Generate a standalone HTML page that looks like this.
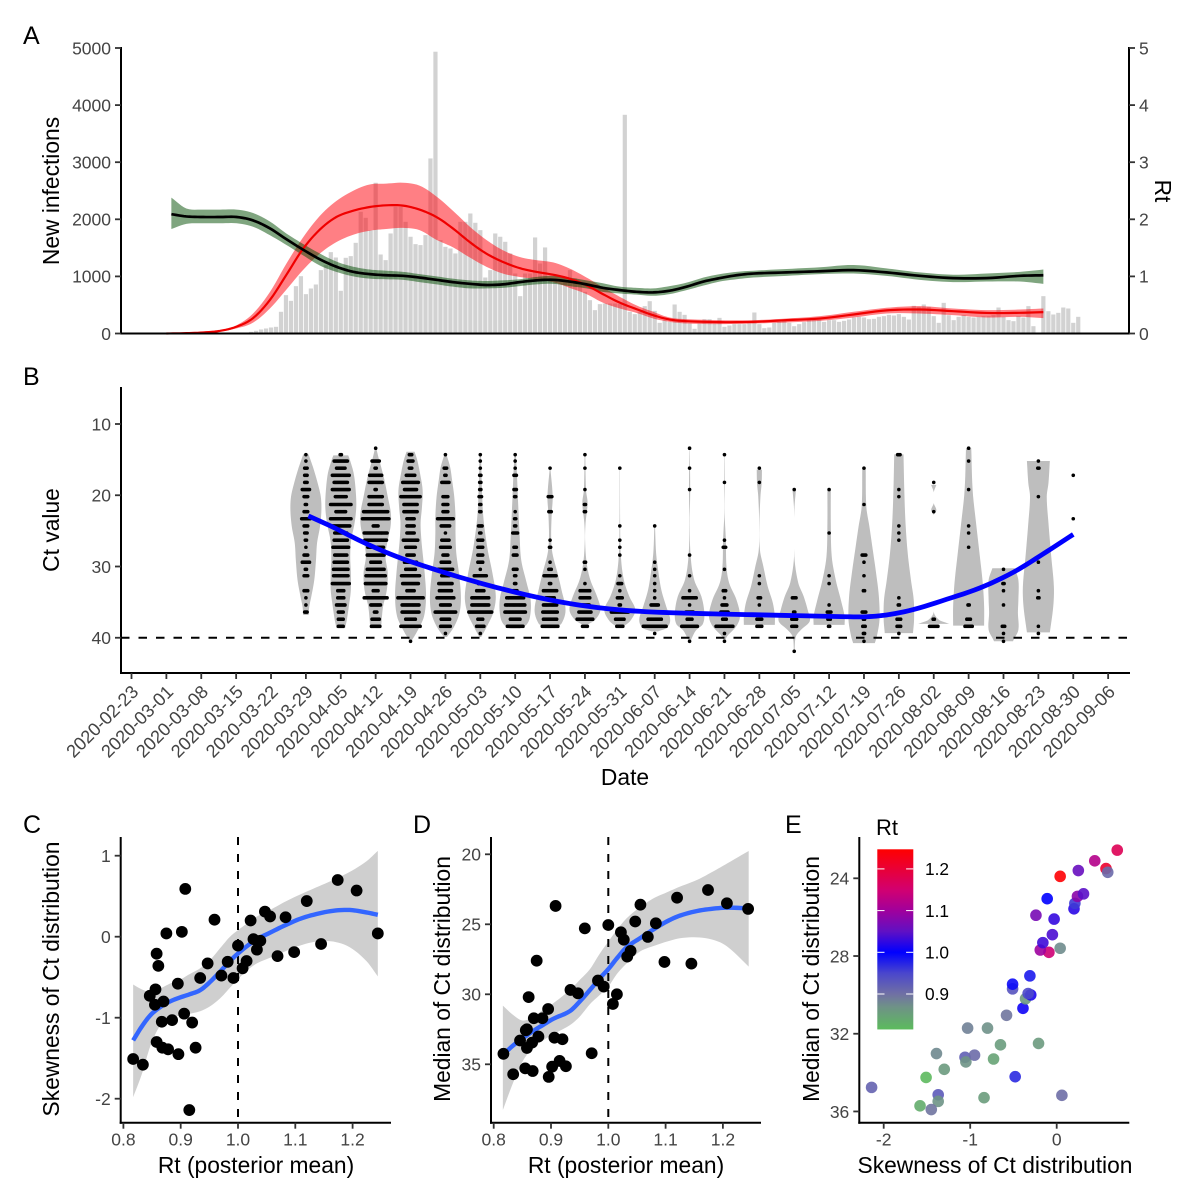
<!DOCTYPE html>
<html lang="en">
<head>
<meta charset="utf-8">
<title>Ct values and Rt panels</title>
<style>
html,body{margin:0;padding:0;background:#fff;}
svg{display:block;font-family:"Liberation Sans",Arial,sans-serif;}
</style>
</head>
<body>
<svg id="fig" xmlns="http://www.w3.org/2000/svg" width="1200" height="1200" viewBox="0 0 1200 1200">
<rect x="0" y="0" width="1200" height="1200" fill="#fff"/>
<text x="23" y="44" font-size="25">A</text>
<text x="23" y="385" font-size="25">B</text>
<text x="23" y="833" font-size="25">C</text>
<text x="413" y="833" font-size="25">D</text>
<text x="785" y="833" font-size="25">E</text>
<text transform="translate(59,191) rotate(-90)" text-anchor="middle" font-size="22.8">New infections</text>
<text transform="translate(1155,191) rotate(90)" text-anchor="middle" font-size="22.8">Rt</text>
<text transform="translate(59,530) rotate(-90)" text-anchor="middle" font-size="22.8">Ct value</text>
<text x="625" y="785" text-anchor="middle" font-size="22.8">Date</text>
<text transform="translate(59,979) rotate(-90)" text-anchor="middle" font-size="22.8">Skewness of Ct distribution</text>
<text x="256" y="1173" text-anchor="middle" font-size="22.8">Rt (posterior mean)</text>
<text transform="translate(450,979) rotate(-90)" text-anchor="middle" font-size="22.8">Median of Ct distribution</text>
<text x="626" y="1173" text-anchor="middle" font-size="22.8">Rt (posterior mean)</text>
<text transform="translate(819,979) rotate(-90)" text-anchor="middle" font-size="22.8">Median of Ct distribution</text>
<text x="995" y="1173" text-anchor="middle" font-size="22.8">Skewness of Ct distribution</text>
<text x="876" y="835" font-size="22">Rt</text>
</svg>
<script>
// ---------- Panel A data ----------
const dateLabels = ["2020-02-23","2020-03-01","2020-03-08","2020-03-15","2020-03-22","2020-03-29","2020-04-05","2020-04-12","2020-04-19","2020-04-26","2020-05-03","2020-05-10","2020-05-17","2020-05-24","2020-05-31","2020-06-07","2020-06-14","2020-06-21","2020-06-28","2020-07-05","2020-07-12","2020-07-19","2020-07-26","2020-08-02","2020-08-09","2020-08-16","2020-08-23","2020-08-30","2020-09-06"];
const newInfectionTicks = [0,1000,2000,3000,4000,5000];
const rtTicks = [0,1,2,3,4,5];
const firstCaseDay = 24;
const dailyCases = [29,47,70,88,105,117,380,672,572,829,1004,689,788,858,1110,1197,1425,1331,748,1326,1355,1588,2132,2026,1810,2640,1384,1285,1752,2219,2219,1956,1694,1565,1548,1723,3066,4935,1635,1518,1489,1402,1956,1956,2102,1939,1810,981,1110,1752,1694,1606,1402,1051,654,1051,1051,1682,1226,1507,934,905,876,905,1110,964,847,730,584,409,514,526,526,526,520,3830,380,339,380,479,566,397,187,234,204,508,380,327,175,82,175,251,251,175,274,117,140,164,164,164,175,368,164,93,105,187,204,234,187,128,164,199,234,234,234,204,234,234,204,222,245,280,292,280,251,257,292,304,327,315,339,292,245,485,467,508,467,304,187,537,321,234,292,321,292,280,292,304,304,321,455,292,234,216,304,280,479,128,12,654,391,333,362,455,438,187,292];

const rtDays = [8,11,14.4,17.8,21.1,24.4,27.8,31.1,34.4,37.8,41.1,44.5,47.8,51.1,54.5,57.8,61.2,64.5,67.9,71.2,74.5,77.9,81.2,84.6,87.9,91.3,94.6,98,101.4,104.7,108,111.4,114.8,118.1,121.4,124.8,131.5,138.2,144.9,151.5,158.2,164.9,171.6,178.3,183];
const rtMean = [2.09,2.05,2.04,2.04,2.04,1.98,1.84,1.65,1.47,1.30,1.17,1.08,1.04,1.02,1.01,0.98,0.94,0.90,0.87,0.85,0.86,0.90,0.93,0.94,0.91,0.86,0.80,0.76,0.73,0.72,0.75,0.82,0.91,0.97,1.02,1.05,1.07,1.09,1.11,1.07,1.01,0.97,0.97,1.01,1.02];
const rtHigh = [2.38,2.19,2.17,2.17,2.17,2.11,1.96,1.75,1.57,1.40,1.26,1.17,1.12,1.10,1.08,1.04,1.00,0.96,0.93,0.92,0.93,0.95,0.99,1.01,0.98,0.93,0.88,0.82,0.80,0.79,0.83,0.89,0.98,1.04,1.08,1.10,1.13,1.16,1.20,1.14,1.07,1.03,1.05,1.08,1.12];
const rtLow = [1.83,1.92,1.93,1.93,1.93,1.87,1.72,1.55,1.37,1.19,1.08,1.00,0.96,0.95,0.94,0.90,0.86,0.82,0.79,0.79,0.80,0.83,0.86,0.87,0.83,0.79,0.73,0.70,0.68,0.66,0.69,0.76,0.84,0.91,0.95,0.98,1.01,1.04,1.05,1.01,0.94,0.90,0.91,0.91,0.87];

const infectionDays = [7,11,14.4,17.8,21.1,24.4,27.8,31.1,34.4,37.8,41.1,44.5,47.8,51.1,54.5,57.8,61.2,64.5,67.9,71.2,74.5,77.9,81.2,84.6,87.9,91.3,94.6,98,101.4,104.7,108,111.4,118.1,124.8,131.5,138.2,144.9,151.5,158.2,164.9,171.6,178.3,183];
const infectionMean = [0,6,18,47,120,270,590,1030,1480,1820,2040,2150,2215,2245,2240,2170,2040,1840,1600,1400,1255,1145,1080,1030,960,845,690,540,425,320,245,216,199,204,234,263,333,405,420,391,360,362,374];
const infectionHigh = [0,8,22,58,145,350,730,1226,1680,2060,2320,2500,2610,2625,2640,2590,2400,2150,1870,1640,1460,1340,1285,1245,1139,981,810,642,490,380,280,251,234,234,263,304,380,450,479,438,409,420,438];
const infectionLow = [0,4,14,36,90,190,440,770,1110,1400,1600,1730,1800,1830,1850,1810,1640,1510,1330,1170,1050,990,950,900,800,690,540,438,360,263,204,175,164,175,193,222,280,350,350,321,280,292,269];

// ---------- Panel B data ----------
const ctTicks = [10,20,30,40];
const ctThreshold = 40;
const ctLevels = [13.4,14.3,15.2,16.2,17.2,18.2,19.2,20.2,21.3,22.3,23.3,24.3,25.3,26.3,27.3,28.4,29.4,30.4,31.3,32.4,33.4,34.4,35.4,36.4,37.4,38.4,39.4,40.5,41.9];
const firstViolinWeek = 5;
const violinCt = [
[14.26,15.05,16.2,18.3,20.2,22.1,24.4,26.7,29.1,31.9,34.2,35.6,36.8],
[14.4,15.05,16.9,19.3,21.6,23.9,26.3,28.6,30.9,33.3,35.6,37.5,38.65],
[13.4,14.6,16,17.9,20.2,22.5,24.4,26.7,28.6,30.9,33.3,35.6,37.5,38.65],
[13.9,15.05,16.9,19.3,21.6,23.9,26.3,28.1,30.9,34.2,37,38.9,40.5],
[14.1,16,17.9,20.2,23,25.3,28.1,30.9,34.2,36.5,38.4,39.9],
[14.1,21.6,24.4,27.7,30.9,34.2,36.5,38.4,39.9],
[14.1,16.9,21.6,25.3,29.1,32.3,34.7,37,38.2,38.7],
[16.2,20.2,22.5,25.8,28.1,30.9,33.3,36.1,38,38.65],
[14.26,19.3,21.1,23.9,26.3,29.5,31.9,34.2,36.1,37.5,38.1],
[16.2,23.9,28.6,31.9,34.2,36.1,37.7,38.5],
[24.3,28.1,30.5,33.3,35.6,37.5,38.65,39.1],
[13.4,19.3,24,28.6,31.9,34.2,36.5,38.1,39,40.5],
[14.26,18.3,22.5,26.3,30,32.3,34.7,37,38.4,39.8,40.5],
[16.4,18.3,20.2,23.9,27.7,30,32.8,35.1,37,38.2],
[19.2,22.1,28.6,32.3,34.2,36.1,37.7,38.9,39.8,41.9],
[19.2,23.9,28.6,31.9,34.7,37,38.2],
[16.2,21.6,24.4,27.7,30.9,34.2,37.5,39.8,40.75],
[14.26,19.3,23.9,28.1,31.9,34.7,37.5,39.35],
[18.55,19.6,21.1,22.1,22.8,36.3,37.5,38.05],
[13.4,19.3,23.9,28.1,32.3,35.6,38.3],
[30.25,31.9,34.7,36.5,38.9,40.3,40.5],
[15.2,18.3,20.2,23.9,28.6,32.8,35.6,39.25]
];
const violinDensity = [
[.17,.3,.48,.76,.96,1,.91,.72,.65,.54,.35,.22,.17],
[.48,.59,.83,.96,1,.89,.67,.61,.65,.65,.52,.39,.28],
[.04,.17,.35,.57,.78,.98,.96,.74,.63,.78,.72,.48,.39,.35],
[.26,.43,.61,.78,.74,.65,.7,.78,.91,1,.87,.48,.05],
[.04,.3,.43,.57,.65,.65,.7,.87,1,.91,.57,.1],
[.04,.15,.26,.48,.78,1,.83,.43,.06],
[.04,.11,.2,.28,.39,.74,1,.96,.72,.3],
[.02,.17,.11,.07,.15,.48,.74,1,.74,.33],
[.02,.07,.17,.04,.01,.11,.35,.78,1,.65,.22],
[.01,.02,.07,.26,.61,1,.65,.17],
[.02,.09,.22,.43,.74,1,.76,.22],
[.01,.04,.01,.07,.3,.76,.95,.85,.4,.05],
[.01,.02,.01,.09,.13,.3,.78,1,.76,.17,.04],
[.17,.15,.07,.01,.04,.26,.54,.87,1,1],
[.11,.01,.01,.26,.61,.87,1,.43,.11,.02],
[.11,.11,.17,.43,.76,1,1],
[.11,.15,.35,.57,.78,.96,1,.83,.7],
[.3,.35,.43,.57,.78,.96,.98,.91],
[.17,0,0,.17,0,0,.35,1],
[.17,.26,.48,.7,.91,1,1],
[.72,.96,.96,.93,.96,.65,.61],
[.74,.65,.54,.65,.83,1,.96,.74]
];
const weeklyDotCounts = [
{1:1,2:1,3:3,4:3,5:3,6:7,7:4,8:2,9:4,10:8,11:4,12:3,13:2,14:1,15:4,16:7,17:2,18:4,20:4,21:1,22:1,23:3},
{1:2,2:12,3:8,4:15,5:12,6:15,7:10,8:18,9:9,10:18,11:16,12:11,13:12,14:14,15:11,16:12,17:13,18:13,19:15,20:6,21:6,22:8,23:5,24:5,25:5},
{0:1,2:7,3:2,4:11,5:12,6:2,7:12,8:12,9:21,10:23,11:5,12:20,13:19,14:14,15:15,16:9,17:15,18:17,19:18,20:5,21:20,22:9,23:3,24:7,25:8},
{1:3,2:5,3:3,4:8,5:14,6:11,7:17,8:12,9:12,10:7,11:7,12:7,13:13,14:9,15:7,16:11,17:9,18:16,19:14,20:7,21:22,22:15,23:15,24:9,25:17,27:1},
{1:1,3:3,4:2,5:7,7:5,8:5,9:5,10:14,11:8,12:1,13:7,14:9,15:5,16:8,17:13,18:7,19:12,20:11,21:15,22:9,23:18,24:8,25:9,26:1},
{1:1,2:1,3:1,4:2,5:2,6:2,7:3,8:2,9:2,11:4,12:2,13:5,14:5,15:5,16:5,17:1,18:11,19:4,20:7,21:15,22:15,23:20,24:5,25:7,26:1},
{1:1,2:1,3:1,4:3,6:3,7:2,9:1,10:2,11:2,12:5,14:3,15:4,17:4,18:2,19:2,20:4,21:15,22:17,23:18,24:9,25:14},
{3:1,7:4,9:3,13:1,14:2,16:1,17:3,18:11,19:2,20:12,21:8,22:12,23:13,24:12,25:14},
{1:1,3:1,6:1,8:2,9:2,16:2,17:1,19:1,20:9,21:9,22:8,23:11,24:14,25:5},
{3:1,11:1,13:1,14:1,15:1,18:1,19:4,20:1,21:5,22:2,23:15,24:8,25:6},
{11:1,16:1,17:1,18:1,19:1,20:1,21:1,22:7,23:5,24:12,25:20,26:1},
{0:1,3:1,6:1,15:1,18:1,20:1,21:12,22:1,23:7,24:5,25:14,27:1},
{1:1,5:1,13:1,14:3,17:1,20:3,21:1,22:5,23:7,24:4,25:15,26:1,27:1},
{3:1,5:1,18:1,19:1,21:3,22:1,24:5,25:5},
{6:1,21:4,23:2,24:5,25:5,28:1},
{6:1,12:1,18:1,19:1,22:1,23:4,24:3,25:2},
{3:1,8:1,15:4,16:1,18:1,20:2,23:4,24:2,25:3,26:2,27:1},
{1:3,6:1,7:1,11:1,12:1,13:1,21:1,22:2,24:4,25:4,26:1},
{5:1,9:1,24:2,25:8},
{0:1,2:1,6:1,11:1,12:1,14:1,22:2,24:4,25:7},
{17:1,19:2,20:1,22:1,25:3,26:1,27:1},
{2:1,3:2,7:1,16:1,20:1,21:2,25:1,26:1},
{4:1,10:1}
];
const ctTrendDays = [35.5,40.5,46.5,53.2,59.9,66.6,73.3,80,86.7,93.4,100,106.7,116.8,123.5,130.1,136.8,143.5,147.5,151.5,156.9,163.6,170.3,177,183.7,189];
const ctTrendValues = [22.9,24.5,26.6,28.6,30.2,31.65,32.95,34.1,35.05,35.75,36.2,36.45,36.65,36.75,36.85,36.95,37.05,37.05,36.8,36.05,34.6,33,30.8,27.9,25.5];

// ---------- Panels C, D, E data ----------
const rtPosterior = [.915,.817,.834,.926,.868,.896,.855,.971,.902,.858,.878,.920,.867,.906,.846,.856,.858,.885,.870,.895,1.008,.861,1.015,.947,.934,.992,.982,.875,1.145,1.098,1.033,1.039,1.069,1.027,1.022,.959,1.083,1.047,1.0,1.244,1.056,1.12,1.207,.908,1.174];
const ctSkewness = [-2.14,-1.51,-1.58,-1.37,-1.37,-1.45,-.84,-.48,.06,-1.30,-1.39,-1.06,-1.05,-.95,-.73,-.65,-.21,-1.03,-.80,-.58,-.39,-.36,-.30,-.33,-.51,-.51,-.31,.04,-.09,-.19,-.16,-.05,-.24,-.03,.2,.21,.24,.31,-.11,.04,.25,.44,.57,.59,.70];
const ctMedian = [34.76,34.25,35.71,35.14,35.48,35.9,35.29,34.21,35.17,33.83,33.02,33.21,33.45,33.1,33.3,32.57,32.5,31.71,31.71,31.05,30.69,30.2,30.0,29.93,29.69,29.45,29.02,27.6,27.81,27.69,27.31,26.9,25.9,26.1,25.57,25.29,24.93,24.8,25.05,23.9,23.6,23.1,23.5,23.69,22.55];

const skewFitRt = [.817,.832,.847,.864,.881,.899,.916,.934,.951,.969,.986,.998,1.015,1.033,1.056,1.079,1.108,1.137,1.166,1.195,1.224,1.244];
const skewFitMean = [-1.28,-1.11,-.97,-.87,-.80,-.75,-.71,-.66,-.56,-.43,-.30,-.22,-.12,-.03,.05,.13,.22,.28,.32,.33,.30,.27];
const skewFitHigh = [-.59,-.65,-.68,-.64,-.58,-.53,-.46,-.39,-.29,-.14,.00,.07,.16,.25,.33,.42,.52,.61,.70,.80,.93,1.06];
const skewFitLow = [-1.98,-1.70,-1.35,-1.10,-1.01,-.97,-.95,-.92,-.86,-.76,-.63,-.54,-.42,-.33,-.26,-.19,-.11,-.06,-.06,-.13,-.30,-.49];

const medianFitRt = [.816,.834,.851,.869,.886,.904,.933,.950,.968,.985,1.0,1.015,1.032,1.055,1.079,1.102,1.125,1.155,1.184,1.208,1.245];
const medianFitMean = [34.33,33.65,33.14,32.62,32.19,31.75,31.2,30.52,29.69,28.86,28.2,27.43,26.64,26.0,25.36,24.8,24.38,24.05,23.88,23.81,23.86];
const medianFitHigh = [30.81,31.48,31.88,31.6,31.12,30.64,29.69,28.98,28.2,27.1,26.24,25.4,24.57,23.79,23.14,22.72,22.31,21.83,21.2,20.64,19.76];
const medianFitLow = [38.26,36.3,34.75,33.8,33.3,32.85,32.2,31.6,30.7,30.05,29.45,28.55,27.79,26.95,26.55,26.24,26,25.93,26.12,26.6,28.02];

const rtAxisTicks = [0.8,0.9,1.0,1.1,1.2];
const skewTicks = [-2,-1,0,1];
const medianTicksD = [20,25,30,35];
const skewTicksE = [-2,-1,0];
const medianTicksE = [24,28,32,36];
const legendTicks = [0.9,1.0,1.1,1.2];
const colorStopValues = [.815,.87,.9,.95,1.0,1.05,1.1,1.15,1.247];
const colorStopColors = ["#5cbb5c","#6f9188","#7070a4","#4a46cc","#0000ff","#6010c4","#a0009c","#d20070","#ff0000"];

// ---------- Scales ----------
const dayX = d => 131.5 + d * 34.88 / 7;
const weekX = i => dayX(i * 7);
const yInfections = v => 333.5 - v * 285.5 / 5000;
const yRt = v => 333.5 - v * 285.5 / 5;
const yCt = v => 424 + (v - 10) * 7.125;
const xRtC = v => 238 + (v - 1) * 573;
const yRtSkew = v => 936.7 - v * 81;
const xRtD = v => 608.3 + (v - 1) * 573;
const yMedianD = v => 854.3 + (v - 20) * 14;
const xSkewE = v => 1056.7 + v * 86.5;
const yMedianE = v => 878.3 + (v - 24) * 19.43;
const yLegend = v => 952.3 - (v - 1) * 417;

// ---------- Helpers ----------
const svg = document.getElementById('fig');
const NS = 'http://www.w3.org/2000/svg';
function el(tag, attrs, parent) {
  const n = document.createElementNS(NS, tag);
  for (const k in attrs) n.setAttribute(k, attrs[k]);
  (parent || svg).appendChild(n);
  return n;
}
function group(name) {
  const g = el('g', {});
  
  
  return g;
}
function curve(xs, ys, steps) {
  const out = [];
  const n = xs.length;
  const slope = i => {
    if (i === 0) return (ys[1] - ys[0]) / (xs[1] - xs[0]);
    if (i === n - 1) return (ys[n - 1] - ys[n - 2]) / (xs[n - 1] - xs[n - 2]);
    return (ys[i + 1] - ys[i - 1]) / (xs[i + 1] - xs[i - 1]);
  };
  for (let i = 0; i < n - 1; i++) {
    const h = xs[i + 1] - xs[i];
    const m0 = slope(i), m1 = slope(i + 1);
    for (let s = 0; s < steps; s++) {
      const t = s / steps, t2 = t * t, t3 = t2 * t;
      const y = (2 * t3 - 3 * t2 + 1) * ys[i] + (t3 - 2 * t2 + t) * h * m0 + (-2 * t3 + 3 * t2) * ys[i + 1] + (t3 - t2) * h * m1;
      out.push([xs[i] + t * h, y]);
    }
  }
  out.push([xs[n - 1], ys[n - 1]]);
  return out;
}
function pathFrom(pts, fx, fy) {
  return pts.map((p, i) => (i ? 'L' : 'M') + fx(p[0]).toFixed(2) + ' ' + fy(p[1]).toFixed(2)).join('');
}
function ribbonPath(xs, hi, lo, fx, fy) {
  const a = curve(xs, hi, 6);
  const b = curve(xs, lo, 6).reverse();
  return pathFrom(a.concat(b), fx, fy) + 'Z';
}
function axisLine(parent, name, x1, y1, x2, y2) {
  const l = el('line', {x1: x1, y1: y1, x2: x2, y2: y2, stroke: '#000', 'stroke-width': 2, 'stroke-linecap': 'square'}, parent);
  
  
}
function tickLabel(parent, name, x, y, anchor, text) {
  const t = el('text', {x: x, y: y, 'text-anchor': anchor, 'font-size': 17.5, fill: '#444'}, parent);
  t.textContent = text;
  
  
}
function yTicks(parent, prefix, ticks, scale, axisX, dir) {
  ticks.forEach(v => {
    const y = scale(v);
    const l = el('line', {x1: axisX, y1: y, x2: axisX + dir * 6, y2: y, stroke: '#333', 'stroke-width': 1.8}, parent);
    
    
    tickLabel(parent, prefix + '-tick-label', axisX + dir * 10, y + 6.3, dir < 0 ? 'end' : 'start', String(v));
  });
}
function xTicks(parent, prefix, ticks, scale, axisY, fmt) {
  ticks.forEach(v => {
    const x = scale(v);
    const l = el('line', {x1: x, y1: axisY, x2: x, y2: axisY + 6, stroke: '#333', 'stroke-width': 1.8}, parent);
    
    
    tickLabel(parent, prefix + '-tick-label', x, axisY + 23, 'middle', fmt(v));
  });
}
function rtColor(v) {
  const vals = colorStopValues, cols = colorStopColors;
  if (v <= vals[0]) return cols[0];
  for (let i = 0; i < vals.length - 1; i++) {
    if (v <= vals[i + 1]) {
      const t = (v - vals[i]) / (vals[i + 1] - vals[i]);
      const a = cols[i], b = cols[i + 1];
      const ch = k => Math.round(parseInt(a.substr(k, 2), 16) * (1 - t) + parseInt(b.substr(k, 2), 16) * t);
      return 'rgb(' + ch(1) + ',' + ch(3) + ',' + ch(5) + ')';
    }
  }
  return cols[cols.length - 1];
}

// ---------- Panel A ----------
const gBars = group('daily-new-cases-bars');
dailyCases.forEach((v, i) => {
  const x = dayX(firstCaseDay + i);
  const r = el('rect', {x: x - 2.1, y: yInfections(v), width: 4.2, height: 333.5 - yInfections(v), fill: '#d2d2d2'}, gBars);
  
  
});
const gA = group('panel-a-series');
const redRibbon = el('path', {d: ribbonPath(infectionDays, infectionHigh, infectionLow, dayX, yInfections), fill: 'rgba(255,0,10,0.5)'}, gA);


const greenRibbon = el('path', {d: ribbonPath(rtDays, rtHigh, rtLow, dayX, yRt), fill: 'rgba(0,75,0,0.5)'}, gA);


const redLine = el('path', {d: pathFrom(curve(infectionDays, infectionMean, 6), dayX, yInfections), fill: 'none', stroke: '#f00000', 'stroke-width': 2.2}, gA);


const blackLine = el('path', {d: pathFrom(curve(rtDays, rtMean, 6), dayX, yRt), fill: 'none', stroke: '#000', 'stroke-width': 2.7}, gA);


const gAxisA = group('panel-a-axes');
axisLine(gAxisA, 'panel-a-left-axis', 121, 48, 121, 333.5);
axisLine(gAxisA, 'panel-a-right-axis', 1129, 48, 1129, 333.5);
axisLine(gAxisA, 'panel-a-x-axis', 121, 333.5, 1129, 333.5);
yTicks(gAxisA, 'new-infections-axis', newInfectionTicks, yInfections, 121, -1);
yTicks(gAxisA, 'rt-axis', rtTicks, yRt, 1129, 1);

// ---------- Panel B ----------
const gViolin = group('ct-violins');
violinCt.forEach((cts, w) => {
  const cx = weekX(firstViolinWeek + w);
  const pts = curve(cts, violinDensity[w], 6);
  const right = pts.map(p => (cx + Math.max(0, p[1]) * 15.5).toFixed(2) + ' ' + yCt(p[0]).toFixed(2));
  const left = pts.slice().reverse().map(p => (cx - Math.max(0, p[1]) * 15.5).toFixed(2) + ' ' + yCt(p[0]).toFixed(2));
  const v = el('path', {d: 'M' + right.concat(left).join('L') + 'Z', fill: '#bebebe'}, gViolin);
  
  
});
const gDots = group('ct-dots');
weeklyDotCounts.forEach((rows, w) => {
  const cx = weekX(firstViolinWeek + w);
  Object.keys(rows).forEach(key => {
    const count = rows[key];
    const y = yCt(ctLevels[+key]);
    for (let k = 0; k < count; k++) {
      const c = el('circle', {cx: (cx + (k - (count - 1) / 2) * 1.2).toFixed(2), cy: y.toFixed(2), r: 1.8, fill: '#000'}, gDots);
      
      
    }
  });
});
const gB = group('panel-b-overlays');
const threshold = el('line', {x1: 121, y1: yCt(ctThreshold), x2: 1129, y2: yCt(ctThreshold), stroke: '#000', 'stroke-width': 2, 'stroke-dasharray': '8.5 9'}, gB);


const ctTrend = el('path', {d: pathFrom(curve(ctTrendDays, ctTrendValues, 6), dayX, yCt), fill: 'none', stroke: '#0000ff', 'stroke-width': 4.8}, gB);


const gAxisB = group('panel-b-axes');
axisLine(gAxisB, 'panel-b-y-axis', 121, 388, 121, 673);
axisLine(gAxisB, 'panel-b-x-axis', 121, 673, 1129, 673);
yTicks(gAxisB, 'ct-axis', ctTicks, yCt, 121, -1);
dateLabels.forEach((label, i) => {
  const x = weekX(i);
  const l = el('line', {x1: x, y1: 673, x2: x, y2: 679, stroke: '#333', 'stroke-width': 1.8}, gAxisB);
  
  
  const t = el('text', {transform: 'translate(' + (x + 8).toFixed(2) + ',693) rotate(-45)', 'text-anchor': 'end', 'font-size': 18.2, fill: '#444'}, gAxisB);
  t.textContent = label;
  
  
});

// ---------- Panel C ----------
const gC = group('panel-c');
const cBand = el('path', {d: ribbonPath(skewFitRt, skewFitHigh, skewFitLow, xRtC, yRtSkew), fill: '#cfcfcf'}, gC);


const cDash = el('line', {x1: xRtC(1), y1: 837, x2: xRtC(1), y2: 1122.7, stroke: '#000', 'stroke-width': 2, 'stroke-dasharray': '8 9'}, gC);


const cFit = el('path', {d: pathFrom(curve(skewFitRt, skewFitMean, 6), xRtC, yRtSkew), fill: 'none', stroke: '#3366ff', 'stroke-width': 4.4}, gC);


rtPosterior.forEach((rt, i) => {
  const c = el('circle', {cx: xRtC(rt), cy: yRtSkew(ctSkewness[i]), r: 5.9, fill: '#000'}, gC);
  
  
});
axisLine(gC, 'panel-c-y-axis', 120.7, 838, 120.7, 1122.7);
axisLine(gC, 'panel-c-x-axis', 120.7, 1122.7, 390, 1122.7);
yTicks(gC, 'skewness-axis', skewTicks, yRtSkew, 120.7, -1);
xTicks(gC, 'rt-axis-c', rtAxisTicks, xRtC, 1122.7, v => v.toFixed(1));

// ---------- Panel D ----------
const gD = group('panel-d');
const dBand = el('path', {d: ribbonPath(medianFitRt, medianFitHigh, medianFitLow, xRtD, yMedianD), fill: '#cfcfcf'}, gD);


const dDash = el('line', {x1: xRtD(1), y1: 837, x2: xRtD(1), y2: 1122.7, stroke: '#000', 'stroke-width': 2, 'stroke-dasharray': '8 9'}, gD);


const dFit = el('path', {d: pathFrom(curve(medianFitRt, medianFitMean, 6), xRtD, yMedianD), fill: 'none', stroke: '#3366ff', 'stroke-width': 4.4}, gD);


rtPosterior.forEach((rt, i) => {
  const c = el('circle', {cx: xRtD(rt), cy: yMedianD(ctMedian[i]), r: 5.9, fill: '#000'}, gD);
  
  
});
axisLine(gD, 'panel-d-y-axis', 491, 838, 491, 1122.7);
axisLine(gD, 'panel-d-x-axis', 491, 1122.7, 760, 1122.7);
yTicks(gD, 'median-axis-d', medianTicksD, yMedianD, 491, -1);
xTicks(gD, 'rt-axis-d', rtAxisTicks, xRtD, 1122.7, v => v.toFixed(1));

// ---------- Panel E ----------
const gE = group('panel-e');
const defs = el('defs', {}, gE);
const grad = el('linearGradient', {id: 'rtGradient', x1: 0, y1: 1, x2: 0, y2: 0}, defs);
const gradMin = colorStopValues[0];
const gradSpan = colorStopValues[colorStopValues.length - 1] - gradMin;
colorStopValues.forEach((v, i) => {
  el('stop', {offset: ((v - gradMin) / gradSpan).toFixed(4), 'stop-color': colorStopColors[i]}, grad);
});
const legendBar = el('rect', {x: 877.3, y: yLegend(colorStopValues[colorStopValues.length - 1]), width: 36, height: yLegend(gradMin) - yLegend(colorStopValues[colorStopValues.length - 1]), fill: 'url(#rtGradient)'}, gE);


legendTicks.forEach(v => {
  const y = yLegend(v);
  const a = el('line', {x1: 877.3, y1: y, x2: 884.5, y2: y, stroke: '#fff', 'stroke-width': 1}, gE);
  
  
  const b = el('line', {x1: 906.1, y1: y, x2: 913.3, y2: y, stroke: '#fff', 'stroke-width': 1}, gE);
  
  
  const t = el('text', {x: 925, y: y + 6.2, 'font-size': 17.3, fill: '#000'}, gE);
  t.textContent = v.toFixed(1);
  
  
});
rtPosterior.forEach((rt, i) => {
  const c = el('circle', {cx: xSkewE(ctSkewness[i]), cy: yMedianE(ctMedian[i]), r: 5.8, fill: rtColor(rt), 'fill-opacity': 0.9}, gE);
  
  
});
axisLine(gE, 'panel-e-y-axis', 859.3, 838, 859.3, 1122.7);
axisLine(gE, 'panel-e-x-axis', 859.3, 1122.7, 1128.3, 1122.7);
yTicks(gE, 'median-axis-e', medianTicksE, yMedianE, 859.3, -1);
xTicks(gE, 'skewness-axis-e', skewTicksE, xSkewE, 1122.7, v => String(v));
</script>
</body>
</html>
